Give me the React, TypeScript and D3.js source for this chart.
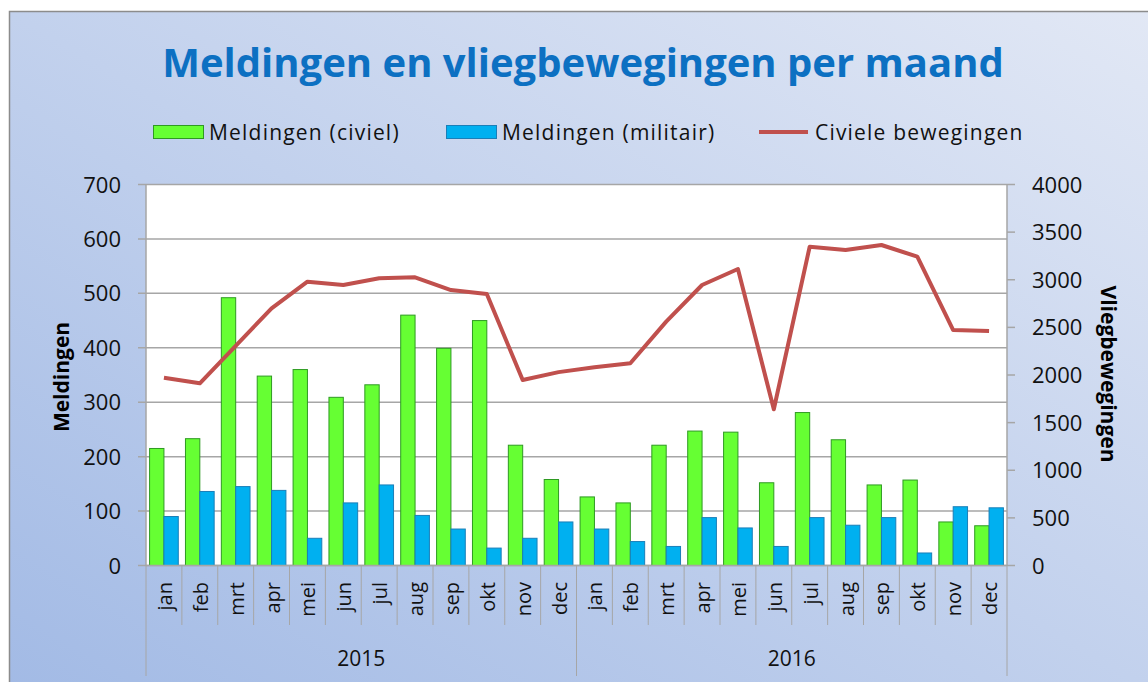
import React from "react";
import * as d3 from "d3";

const months = ["jan","feb","mrt","apr","mei","jun","jul","aug","sep","okt","nov","dec"];
const years = ["2015", "2016"];
const civiel = [215,233,492,348,360,309,332,460,399,450,221,158, 126,115,221,247,245,152,281,231,148,157,80,73];
const militair = [90,136,145,138,50,115,148,92,67,32,50,80, 67,44,35,88,69,35,88,74,88,23,108,106];
const bewegingen = [1972,1913,2307,2700,2980,2945,3015,3025,2892,2850,1947,2030, 2081,2123,2560,2945,3113,1640,3347,3312,3365,3242,2472,2462];
const leftTicks = [0,100,200,300,400,500,600,700];
const rightTicks = [0,500,1000,1500,2000,2500,3000,3500,4000];

const W = 1148, H = 682;
const L = 146, R = 1007, T = 184.5, B = 565.5;
const FONT = "'Open Sans', Lato, sans-serif";

export default function App() {
  const cats = years.flatMap((y) => months.map((m) => `${y}-${m}`));
  const x = d3.scaleBand<string>().domain(cats).range([L, R]).paddingInner(0).paddingOuter(0);
  const inner = d3.scaleBand<string>().domain(["c", "m"]).range([0, x.bandwidth()]).paddingInner(0).paddingOuter(0.25);
  const yL = d3.scaleLinear().domain([0, 700]).range([B, T]);
  const yR = d3.scaleLinear().domain([0, 4000]).range([B, T]);
  const line = d3.line<number>().x((_, i) => x(cats[i])! + x.bandwidth() / 2).y((d) => yR(d));
  const bw = x.bandwidth();

  return (
    <svg width={W} height={H} style={{ position: "absolute", left: 0, top: 0, display: "block" }}>
      <defs>
        <linearGradient id="bg" x1="0" y1="1" x2="1" y2="0">
          <stop offset="0" stopColor="#a2bae5" />
          <stop offset="1" stopColor="#e2e8f5" />
        </linearGradient>
      </defs>
      <rect x={9.5} y={11.5} width={W} height={H} fill="url(#bg)" stroke="#8c8c8c" strokeWidth={1.5} />
      <text x={583} y={77} textAnchor="middle" fontFamily={FONT} fontWeight="bold" fontSize={40} fill="#0c70c2">
        Meldingen en vliegbewegingen per maand
      </text>
      {/* legend */}
      <g fontFamily={FONT} fontSize={21} fill="#111" letterSpacing={1.2}>
        <rect x={153.5} y={125.5} width={50} height={13} fill="#66ff33" stroke="#2e9a22" />
        <text x={209} y={140}>Meldingen (civiel)</text>
        <rect x={446.5} y={125.5} width={50} height={13} fill="#00b0f0" stroke="#1a7fb8" />
        <text x={502} y={140}>Meldingen (militair)</text>
        <line x1={759} x2={808} y1={132} y2={132} stroke="#c0504d" strokeWidth={4} />
        <text x={815} y={140}>Civiele bewegingen</text>
      </g>
      {/* plot */}
      <rect x={L} y={T} width={R - L} height={B - T} fill="#ffffff" />
      {leftTicks.map((t) => (
        <line key={t} x1={L - 8} x2={R} y1={yL(t)} y2={yL(t)} stroke="#a6a6a6" strokeWidth={1.5} />
      ))}
      {rightTicks.map((t) => (
        <line key={t} x1={R} x2={R + 8} y1={yR(t)} y2={yR(t)} stroke="#a6a6a6" strokeWidth={1.5} />
      ))}
      <line x1={L} x2={L} y1={T} y2={B} stroke="#a6a6a6" strokeWidth={1.5} />
      <line x1={R} x2={R} y1={T} y2={B} stroke="#a6a6a6" strokeWidth={1.5} />
      {cats.map((c, i) => (
        <g key={c}>
          <rect x={x(c)! + inner("c")!} y={yL(civiel[i])} width={inner.bandwidth()} height={B - yL(civiel[i])} fill="#66ff33" stroke="#2e9a22" strokeWidth={1} />
          <rect x={x(c)! + inner("m")!} y={yL(militair[i])} width={inner.bandwidth()} height={B - yL(militair[i])} fill="#00b0f0" stroke="#1a7fb8" strokeWidth={1} />
        </g>
      ))}
      <path d={line(bewegingen)!} fill="none" stroke="#c0504d" strokeWidth={4} strokeLinejoin="round" />
      {/* x axis */}
      <line x1={L} x2={R} y1={B} y2={B} stroke="#a6a6a6" strokeWidth={1.5} />
      {cats.map((c, i) => {
        const x0 = x(c)!;
        const isYear = i % 12 === 0;
        return (
          <g key={c}>
            <line x1={x0} x2={x0} y1={B} y2={isYear ? 676 : 625} stroke="#a6a6a6" strokeWidth={1} />
            <text transform={`translate(${x0 + bw / 2 + 8},${582}) rotate(-90)`} textAnchor="end" fontFamily={FONT} fontSize={20} fill="#111">
              {months[i % 12]}
            </text>
          </g>
        );
      })}
      <line x1={R} x2={R} y1={B} y2={676} stroke="#a6a6a6" strokeWidth={1} />
      {years.map((y, j) => (
        <text key={y} x={L + (j * 12 + 6) * bw} y={666} textAnchor="middle" fontFamily={FONT} fontSize={21} fill="#111">{y}</text>
      ))}
      {/* y ticks */}
      {leftTicks.map((t) => (
        <text key={t} x={121} y={yL(t) + 8} textAnchor="end" fontFamily={FONT} fontSize={22} fill="#111">{t}</text>
      ))}
      {rightTicks.map((t) => (
        <text key={t} x={1032} y={yR(t) + 8} textAnchor="start" fontFamily={FONT} fontSize={22} fill="#111">{t}</text>
      ))}
      <text transform={`translate(69,377) rotate(-90)`} textAnchor="middle" fontFamily={FONT} fontWeight="bold" fontSize={21} fill="#000">Meldingen</text>
      <text transform={`translate(1101,374) rotate(90)`} textAnchor="middle" fontFamily={FONT} fontWeight="bold" fontSize={21} fill="#000">Vliegbewegingen</text>
    </svg>
  );
}
